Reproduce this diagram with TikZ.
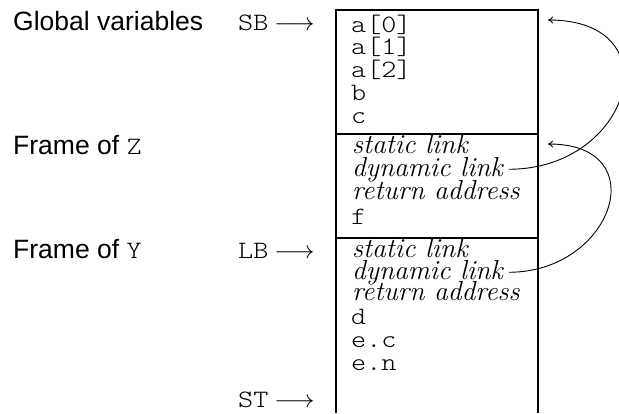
\documentclass[tikz,border=0pt]{standalone}
\usepackage{fontspec}
\usetikzlibrary{arrows.meta}
\newfontfamily\sansf{Liberation Sans}
\newfontfamily\courf{lmmonolt10-regular.otf}[FakeStretch=1.15]
\newcommand\cour{\fontsize{25}{30}\selectfont\courf}
\newcommand\arr{{\fontsize{24}{30}\selectfont$\longrightarrow$}}
\tikzset{
  lbl/.style={anchor=base west, inner sep=0pt, font=\fontsize{26.5}{30}\selectfont\sansf},
  ptr/.style={anchor=base west, inner sep=0pt, font=\cour},
  cellm/.style={anchor=base west, inner sep=0pt, font=\cour},
  celli/.style={anchor=base west, inner sep=0pt, font=\fontsize{27.5}{30}\selectfont\itshape},
  frame/.style={line width=2pt},
  link/.style={line width=0.9pt, -{To[length=5pt,width=7pt]}, shorten <=6pt}
}
\begin{document}
\begin{tikzpicture}[x=1pt,y=-1pt]
\useasboundingbox (0,0) rectangle (619,413);
% left labels
\node[lbl] (gv) at (13,30) {Global variables};
\node[lbl] (fz) at (13,154) {Frame of {\cour Z}};
\node[lbl] (fy) at (13,258) {Frame of {\cour Y}};
% pointers
\node[ptr] (sb) at (238,30) {SB\hspace{6pt}\arr};
\node[ptr] (lb) at (238,258) {LB\hspace{6pt}\arr};
\node[ptr] (st) at (238,407) {ST\hspace{6pt}\arr};
% box
\draw[frame] (336,413) -- (336,10) -- (538,10) -- (538,413);
\draw[frame] (336,134) -- (538,134);
\draw[frame] (336,238) -- (538,238);
% globals
\node[cellm] (a0) at (351,32) {a[0]};
\node[cellm] (a1) at (351,54.5) {a[1]};
\node[cellm] (a2) at (351,77) {a[2]};
\node[cellm] (b) at (351,100) {b};
\node[cellm] (c) at (351,123) {c};
% frame Z
\node[celli] (slz) at (352,153) {static link};
\node[celli] (dlz) at (352,176) {dynamic link};
\node[celli] (raz) at (352,199) {return address};
\node[cellm] (f) at (351,224) {f};
% frame Y
\node[celli] (sly) at (352,257) {static link};
\node[celli] (dly) at (352,279) {dynamic link};
\node[celli] (ray) at (352,300) {return address};
\node[cellm] (d) at (351,324) {d};
\node[cellm] (ec) at (351,347) {e.c};
\node[cellm] (en) at (351,370) {e.n};
% link targets
\coordinate (tg) at (548,20);
\coordinate (tz) at (548,144);
\draw[link] (dlz.east) .. controls +(128,0) and +(126,0) .. (tg);
\draw[link] (dly.east) .. controls +(110,0) and +(108,0) .. (tz);
\end{tikzpicture}
\end{document}
